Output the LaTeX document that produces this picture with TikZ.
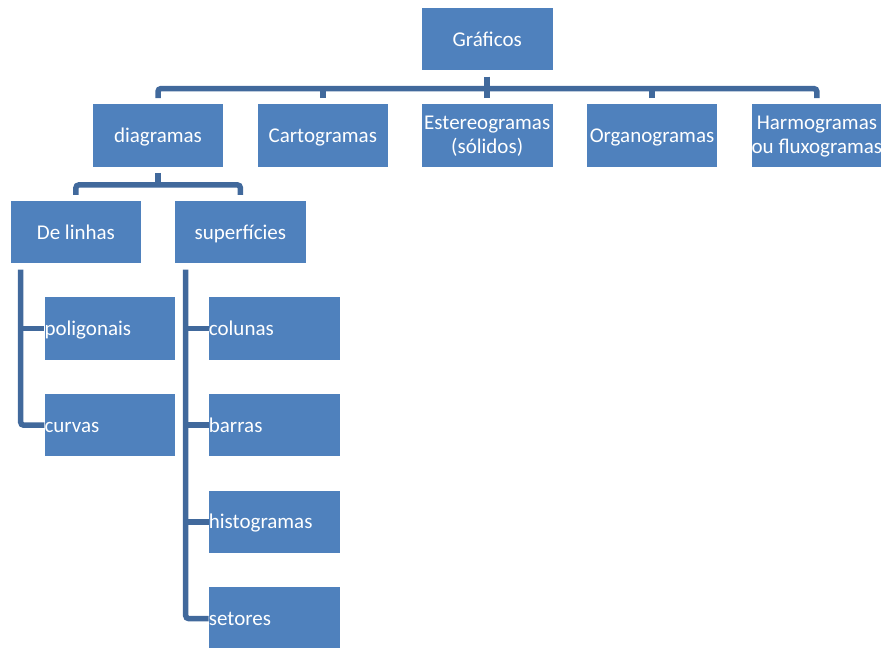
\documentclass[tikz,border=0pt]{standalone}
\usepackage{fontspec}
\setmainfont{Carlito}
\definecolor{boxblue}{HTML}{4F81BD}
\definecolor{lineblue}{HTML}{41699C}
\newcommand\boxstrut{\rule[-5.5pt]{0pt}{25pt}}
\newcommand\twolines[2]{\raisebox{-1.5pt}[\height][\depth]{\begin{tabular}{@{}c@{}}#1\\#2\end{tabular}}}
\begin{document}
\begin{tikzpicture}[x=1pt,y=-1pt,
  box/.style={rectangle, fill=boxblue, draw=none, text=white,
    minimum width=130.6pt, minimum height=62.4pt, inner sep=0pt,
    font=\fontsize{21}{25}\selectfont, align=center,
    execute at begin node=\boxstrut, execute at end node=\boxstrut},
  twoline/.style={box, font=\fontsize{21}{23.5}\selectfont,
    execute at begin node={}, execute at end node={}},
  leaf/.style={box, text width=130.6pt, align=left},
  conn/.style={draw=lineblue, line width=5.5pt, rounded corners=3pt}]
\useasboundingbox (0,0) rectangle (881,648);
% top
\node[box] (g) at (487.2,39.2) {Gráficos};
\node[box] (dia) at (158,135.5) {diagramas};
\node[box] (cart) at (322.8,135.5) {Cartogramas};
\node[twoline] (est) at (487.2,135.5) {\twolines{Estereogramas}{(sólidos)}};
\node[box] (org) at (652,135.5) {Organogramas};
\node[twoline] (harm) at (816.9,135.5) {\twolines{Harmogramas}{ou fluxogramas}};
% second level
\node[box] (dl) at (75.9,232.2) {De linhas};
\node[box] (sup) at (240.4,232.2) {superfícies};
% leaves
\node[leaf] (pol) at (109.8,328.5) {poligonais};
\node[leaf] (curv) at (109.8,425.2) {curvas};
\node[leaf] (col) at (274.2,328.5) {colunas};
\node[leaf] (bar) at (274.2,425.2) {barras};
\node[leaf] (hist) at (274.2,521.9) {histogramas};
\node[leaf] (set) at (274.2,618.6) {setores};
% connectors level 1
\coordinate (h1) at ([yshift=-18pt]g.south);
\draw[conn] ([yshift=-6pt]g.south) -- (h1);
\draw[conn] ([yshift=6pt]dia.north) |- (h1) -| ([yshift=6pt]harm.north);
\draw[conn] ([yshift=6pt]cart.north) -- (cart.north |- h1);
\draw[conn] ([yshift=6pt]est.north) -- (est.north |- h1);
\draw[conn] ([yshift=6pt]org.north) -- (org.north |- h1);
% connectors level 2
\coordinate (h2) at ([yshift=-18pt]dia.south);
\draw[conn] ([yshift=-6pt]dia.south) -- (h2);
\draw[conn] ([yshift=6pt]dl.north) |- (h2) -| ([yshift=6pt]sup.north);
% leaves of De linhas
\coordinate (v1) at ([xshift=10.3pt,yshift=-6pt]dl.south west);
\draw[conn] (v1) |- (curv.west);
\draw[conn] (v1 |- pol.west) -- (pol.west);
% leaves of superficies
\coordinate (v2) at ([xshift=10.8pt,yshift=-6pt]sup.south west);
\draw[conn] (v2) |- (set.west);
\draw[conn] (v2 |- col.west) -- (col.west);
\draw[conn] (v2 |- bar.west) -- (bar.west);
\draw[conn] (v2 |- hist.west) -- (hist.west);
\end{tikzpicture}
\end{document}
